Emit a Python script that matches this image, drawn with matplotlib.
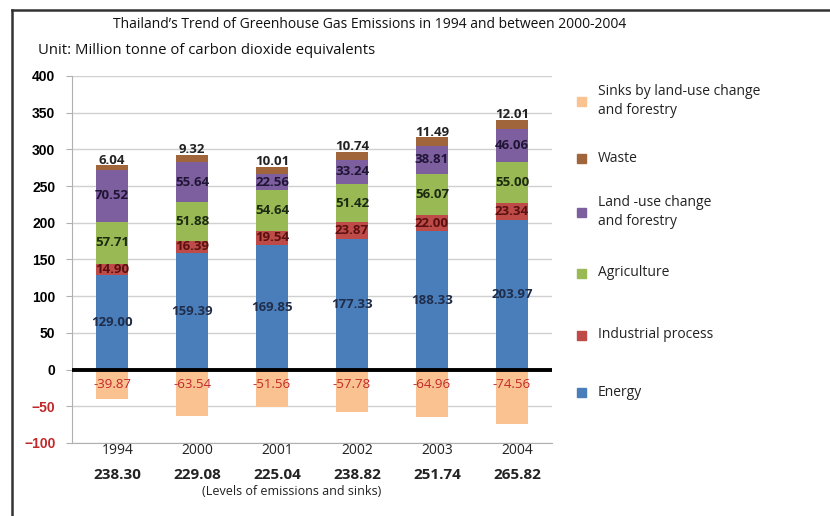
import matplotlib.pyplot as plt
import numpy as np
from matplotlib.patches import Rectangle

# Emissions by sector, million tonnes CO2 eq.
anos = ['1994', '2000', '2001', '2002', '2003', '2004']
energia = [129.00, 159.39, 169.85, 177.33, 188.33, 203.97]
industria = [14.90, 16.39, 19.54, 23.87, 22.00, 23.34]
agricultura = [57.71, 51.88, 54.64, 51.42, 56.07, 55.00]
uso_terra = [70.52, 55.64, 22.56, 33.24, 38.81, 46.06]
residuos = [6.04, 9.32, 10.01, 10.74, 11.49, 12.01]
sumidouros = [-39.87, -63.54, -51.56, -57.78, -64.96, -74.56]

cores = {
    'Energy': '#4a7ebb',
    'Industrial process': '#be4b48',
    'Agriculture': '#98b954',
    'Land -use change\nand forestry': '#7d5fa0',
    'Waste': '#a0653a',
    'Sinks by land-use change\nand forestry': '#fac191',
}

fonte = ['Open Sans', 'DejaVu Sans']

fig = plt.figure(figsize=(8.3, 5.16), dpi=100)
ax = fig.add_axes([72/830, 1 - 443/516, 480/830, 367/516])

x = np.arange(len(anos))
larg = 0.4

camadas = [
    ('Energy', energia, '#1f2d4a'),
    ('Industrial process', industria, '#5a1010'),
    ('Agriculture', agricultura, '#1c2a10'),
    ('Land -use change\nand forestry', uso_terra, '#201535'),
    ('Waste', residuos, '#222222'),
]

base = np.zeros(len(anos))
for nome, vals, cor_txt in camadas:
    vals = np.array(vals)
    ax.bar(x, vals, larg, bottom=base, color=cores[nome], zorder=3)
    for i, v in enumerate(vals):
        if nome == 'Waste':
            y = base[i] + v + 7
        else:
            y = base[i] + v / 2
        ax.text(x[i], y, f'{v:.2f}', ha='center', va='center', fontsize=9.5,
                color=cor_txt, family=fonte, fontweight='bold', zorder=5)
    base = base + vals

sinks = np.array(sumidouros)
ax.bar(x, sinks, larg, color=cores['Sinks by land-use change\nand forestry'], zorder=3)
for i, v in enumerate(sinks):
    ax.text(x[i], -20, f'{v:.2f}', ha='center', va='center', fontsize=9.5,
            color='#c0282a', family=fonte, zorder=5)

ax.axhline(0, color='black', lw=2.8, zorder=4)

ax.set_xlim(-0.5, 5.5)
ax.set_ylim(-100, 400)
ax.set_yticks(np.arange(-100, 401, 50))
ax.yaxis.grid(True, color='#d0d0d0', lw=1)
ax.set_axisbelow(True)
for s in ['top', 'right']:
    ax.spines[s].set_visible(False)
ax.spines['left'].set_color('#b0b0b0')
ax.spines['bottom'].set_color('#b0b0b0')
ax.spines['bottom'].set_position(('data', -100))
ax.tick_params(axis='y', length=4, color='#b0b0b0', pad=8)
ax.tick_params(axis='x', length=0)
ax.set_xticks([])
for lab in ax.get_yticklabels():
    lab.set_fontweight('bold')
    lab.set_fontsize(10)
    lab.set_family(['Liberation Sans', 'DejaVu Sans'])
    if lab.get_text().startswith('−') or lab.get_text().startswith('-'):
        lab.set_color('#c0282a')

# years and net totals under the axis
totais = np.array(energia) + industria + agricultura + uso_terra + residuos + sinks
for i, ano in enumerate(anos):
    ax.text(x[i] + 0.07, -110, ano, ha='center', va='center', fontsize=10,
            family=fonte, color='#222222')
    ax.text(x[i] + 0.07, -144, f'{totais[i]:.2f}', ha='center', va='center',
            fontsize=11, family=fonte, fontweight='bold', color='#222222')
ax.text(x[2] + 0.25, -166, '(Levels of emissions and sinks)', ha='center',
        va='center', fontsize=9, family=fonte, color='#222222')
for t in ax.texts:
    t.set_clip_on(False)

# legend on the right, drawn by hand
itens = [
    ('Sinks by land-use change\nand forestry', 101),
    ('Waste', 158),
    ('Land -use change\nand forestry', 212),
    ('Agriculture', 273),
    ('Industrial process', 335),
    ('Energy', 392),
]
for nome, yp in itens:
    fig.patches.append(Rectangle((577/830, 1 - (yp + 5)/516), 9/830, 9/516,
                                 transform=fig.transFigure, color=cores[nome]))
    fig.text(598/830, 1 - yp/516, nome, ha='left', va='center', fontsize=10,
             family=fonte, color='#222222', linespacing=1.3)

fig.text(113/830, 1 - 25/516, "Thailand\u2019s Trend of Greenhouse Gas Emissions in 1994 and between 2000-2004",
         ha='left', va='center', fontsize=10, family=fonte, color='#111111')
fig.text(38/830, 1 - 51/516, 'Unit: Million tonne of carbon dioxide equivalents',
         ha='left', va='center', fontsize=10.7, family=fonte, color='#111111')

# outer frame
fig.add_artist(plt.Line2D([12/830, 12/830], [0, 1 - 10/516], transform=fig.transFigure,
                          color='#333333', lw=1.8))
fig.add_artist(plt.Line2D([12/830, 1], [1 - 10/516, 1 - 10/516], transform=fig.transFigure,
                          color='#333333', lw=1.8))

fig.savefig('out.png', dpi=100)
